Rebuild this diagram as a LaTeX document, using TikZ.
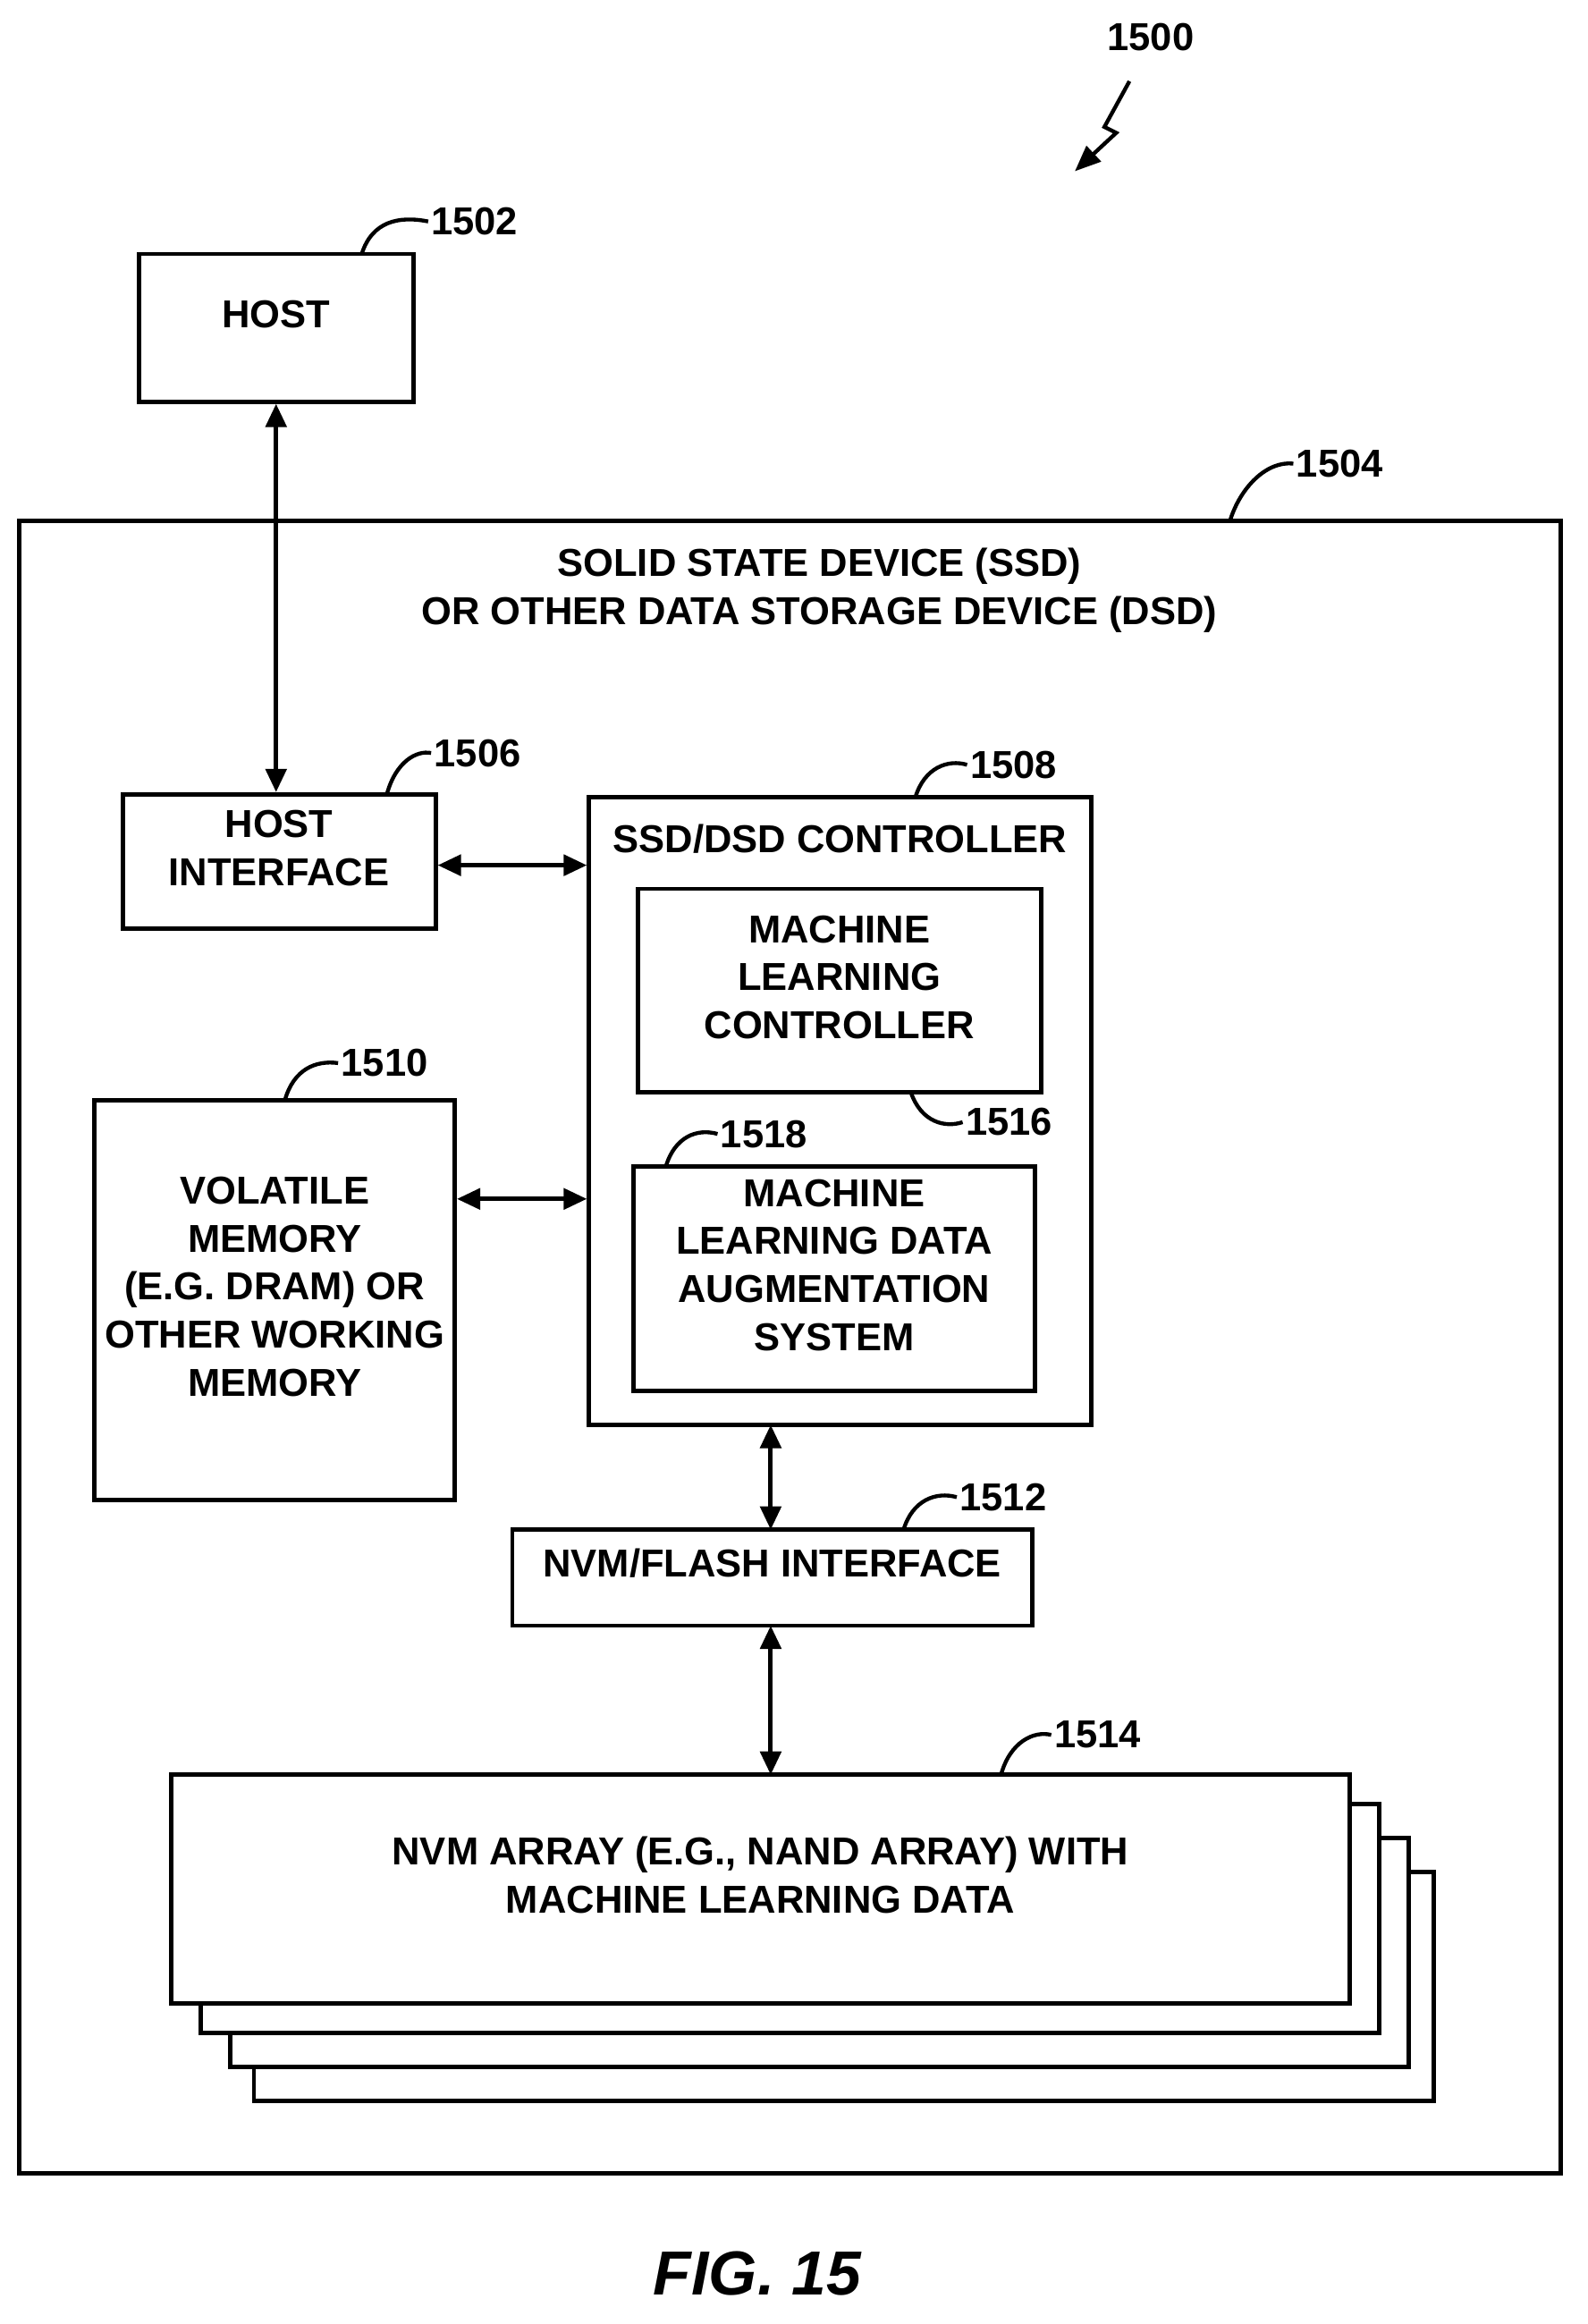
\documentclass[tikz,border=0pt]{standalone}
\usepackage{fontspec}
\setmainfont{Liberation Sans}
\usetikzlibrary{arrows.meta,fit}
\begin{document}
\begin{tikzpicture}[x=0.02cm,y=-0.02cm,
  box/.style={draw,line width=1.7pt,fill=white,inner sep=0pt,align=center,font=\fontsize{15}{18.5}\selectfont\bfseries},
  txt/.style={align=center,font=\fontsize{15}{18.5}\selectfont\bfseries},
  lbl/.style={anchor=west,inner sep=1pt,font=\fontsize{15}{18}\selectfont\bfseries},
  lead/.style={line width=1.5pt},
  dbl/.style={line width=1.7pt,{Triangle[length=9pt,width=8pt]}-{Triangle[length=9pt,width=8pt]}}]
\useasboundingbox (0,0) rectangle (1075,1574);
% outer
\node[box,fit={(13,353)(1057,1472)}] (ssd) {};
\node[txt] (ssdt) at (555,400) {SOLID STATE DEVICE (SSD)\\OR OTHER DATA STORAGE DEVICE (DSD)};
% host
\node[box,fit={(94,172)(280,272)}] (host) {HOST};
\node[box,fit={(83,538)(295,629)}] (hif) {HOST\\INTERFACE};
\node[box,fit={(399,540)(739,965)}] (ctrl) {};
\node[txt] (ctrlt) at (569,568) {SSD/DSD CONTROLLER};
\node[box,fit={(432,602)(705,740)}] (mlc) {MACHINE\\LEARNING\\CONTROLLER};
\node[box,fit={(429,790)(701,942)}] (mla) {MACHINE\\LEARNING DATA\\AUGMENTATION\\SYSTEM};
\node[box,fit={(64,745)(308,1016)}] (vol) {VOLATILE\\MEMORY\\(E.G. DRAM) OR\\OTHER WORKING\\MEMORY};
\node[box,fit={(347,1036)(699,1101)}] (nif) {NVM/FLASH INTERFACE};
% stack
\node[box,fit={(172,1268)(971,1423)}] (s3) {};
\node[box,fit={(156,1245)(954,1400)}] (s2) {};
\node[box,fit={(136,1222)(934,1377)}] (s1) {};
\node[box,fit={(116,1202)(914,1357)}] (nvm) {NVM ARRAY (E.G., NAND ARRAY) WITH\\MACHINE LEARNING DATA};
% arrows
\draw[dbl] (host.south) -- (host.south |- hif.north);
\draw[dbl] (hif.east |- 0,586) -- (ctrl.west |- 0,586);
\draw[dbl] (vol.east |- 0,812) -- (ctrl.west |- 0,812);
\draw[dbl] (522,965) coordinate (c1) -- (522,1036) coordinate (c2);
\draw[dbl] (522,1101) coordinate (c3) -- (522,1202) coordinate (c4);
% labels
\node[lbl] (l1502) at (290,150) {1502};
\draw[lead] (245,172) .. controls (252,150) and (270,146) .. (l1502.west);
\node[lbl] (l1504) at (876,314) {1504};
\draw[lead] (833,353) .. controls (840,330) and (858,312) .. (l1504.west);
\node[lbl] (l1506) at (292,510) {1506};
\draw[lead] (262,538) .. controls (268,516) and (282,508) .. (l1506.west);
\node[lbl] (l1508) at (655,518) {1508};
\draw[lead] (620,540) .. controls (626,520) and (642,514) .. (l1508.west);
\node[lbl] (l1516) at (652,760) {1516};
\draw[lead] (617,740) .. controls (624,760) and (640,764) .. (l1516.west);
\node[lbl] (l1518) at (486,768) {1518};
\draw[lead] (451,790) .. controls (457,770) and (472,764) .. (l1518.west);
\node[lbl] (l1510) at (229,720) {1510};
\draw[lead] (193,745) .. controls (199,724) and (214,718) .. (l1510.west);
\node[lbl] (l1512) at (648,1014) {1512};
\draw[lead] (612,1036) .. controls (618,1016) and (634,1010) .. (l1512.west);
\node[lbl] (l1514) at (712,1175) {1514};
\draw[lead] (678,1202) .. controls (684,1180) and (700,1172) .. (l1514.west);
% 1500
\node[lbl] (l1500) at (748,25) {1500};
\coordinate (z0) at (765,55);
\coordinate (z3) at (728,116);
\draw[line width=1.5pt,-{Triangle[length=10pt,width=8pt]}] (z0) -- (748,86) -- (756,90) -- (z3);
% fig
\node[font=\fontsize{24}{28}\selectfont\bfseries\itshape] (fig) at (513,1540) {FIG. 15};
\end{tikzpicture}
\end{document}
